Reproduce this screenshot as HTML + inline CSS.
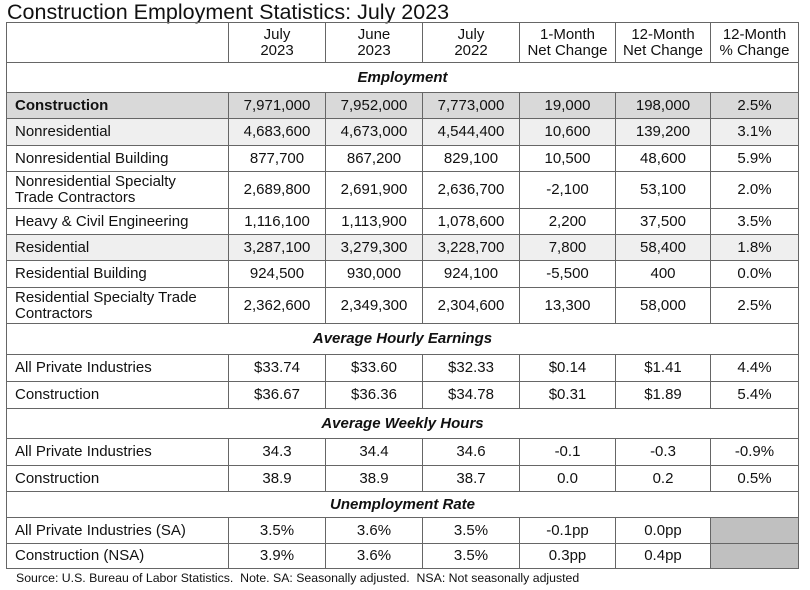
<!DOCTYPE html>
<html><head><meta charset="utf-8"><style>
body{margin:0;width:810px;height:590px;background:#fff;font-family:"Liberation Sans",Arial,sans-serif;color:#111;position:relative;overflow:hidden}
.t{position:absolute;left:7px;top:0px;font-size:21.5px;white-space:nowrap}
table{position:absolute;left:6px;top:22px;border-collapse:collapse;table-layout:fixed;width:792px}
td{border:1.3px solid #666;font-size:15px;text-align:center;padding:0;line-height:16px;white-space:nowrap}
td:first-child{text-align:left;padding-left:8px}
.s td{font-weight:bold;font-style:italic;text-align:center}
.c td{background:#d9d9d9}
.c td:first-child{font-weight:bold}
.l td{background:#efefef}
.g{background:#c0c0c0!important}
.src{position:absolute;left:16px;top:571px;font-size:12.3px;white-space:nowrap}
</style></head><body>
<div class="t">Construction Employment Statistics: July 2023</div>
<table>
<colgroup><col style="width:222px"><col style="width:97px"><col style="width:97px"><col style="width:97px"><col style="width:96px"><col style="width:95px"><col style="width:88px"></colgroup>
<tr style="height:40px"><td></td><td>July<br>2023</td><td>June<br>2023</td><td>July<br>2022</td><td>1-Month<br>Net Change</td><td>12-Month<br>Net Change</td><td>12-Month<br>% Change</td></tr>
<tr class="s" style="height:30px"><td colspan="7" style="text-align:center;padding:0">Employment</td></tr>
<tr class="c" style="height:26px"><td>Construction</td><td>7,971,000</td><td>7,952,000</td><td>7,773,000</td><td>19,000</td><td>198,000</td><td>2.5%</td></tr>
<tr class="l" style="height:27px"><td>Nonresidential</td><td>4,683,600</td><td>4,673,000</td><td>4,544,400</td><td>10,600</td><td>139,200</td><td>3.1%</td></tr>
<tr style="height:26px"><td>Nonresidential Building</td><td>877,700</td><td>867,200</td><td>829,100</td><td>10,500</td><td>48,600</td><td>5.9%</td></tr>
<tr style="height:37px"><td>Nonresidential Specialty<br>Trade Contractors</td><td>2,689,800</td><td>2,691,900</td><td>2,636,700</td><td>-2,100</td><td>53,100</td><td>2.0%</td></tr>
<tr style="height:26px"><td>Heavy &amp; Civil Engineering</td><td>1,116,100</td><td>1,113,900</td><td>1,078,600</td><td>2,200</td><td>37,500</td><td>3.5%</td></tr>
<tr class="l" style="height:26px"><td>Residential</td><td>3,287,100</td><td>3,279,300</td><td>3,228,700</td><td>7,800</td><td>58,400</td><td>1.8%</td></tr>
<tr style="height:27px"><td>Residential Building</td><td>924,500</td><td>930,000</td><td>924,100</td><td>-5,500</td><td>400</td><td>0.0%</td></tr>
<tr style="height:36px"><td>Residential Specialty Trade<br>Contractors</td><td>2,362,600</td><td>2,349,300</td><td>2,304,600</td><td>13,300</td><td>58,000</td><td>2.5%</td></tr>
<tr class="s" style="height:31px"><td colspan="7" style="text-align:center;padding:0">Average Hourly Earnings</td></tr>
<tr style="height:27px"><td>All Private Industries</td><td>$33.74</td><td>$33.60</td><td>$32.33</td><td>$0.14</td><td>$1.41</td><td>4.4%</td></tr>
<tr style="height:27px"><td>Construction</td><td>$36.67</td><td>$36.36</td><td>$34.78</td><td>$0.31</td><td>$1.89</td><td>5.4%</td></tr>
<tr class="s" style="height:30px"><td colspan="7" style="text-align:center;padding:0">Average Weekly Hours</td></tr>
<tr style="height:27px"><td>All Private Industries</td><td>34.3</td><td>34.4</td><td>34.6</td><td>-0.1</td><td>-0.3</td><td>-0.9%</td></tr>
<tr style="height:26px"><td>Construction</td><td>38.9</td><td>38.9</td><td>38.7</td><td>0.0</td><td>0.2</td><td>0.5%</td></tr>
<tr class="s" style="height:26px"><td colspan="7" style="text-align:center;padding:0">Unemployment Rate</td></tr>
<tr style="height:26px"><td>All Private Industries (SA)</td><td>3.5%</td><td>3.6%</td><td>3.5%</td><td>-0.1pp</td><td>0.0pp</td><td class="g"></td></tr>
<tr style="height:25px"><td>Construction (NSA)</td><td>3.9%</td><td>3.6%</td><td>3.5%</td><td>0.3pp</td><td>0.4pp</td><td class="g"></td></tr>
</table>
<div class="src">Source: U.S. Bureau of Labor Statistics.&nbsp; Note. SA: Seasonally adjusted.&nbsp; NSA: Not seasonally adjusted</div>
</body></html>
